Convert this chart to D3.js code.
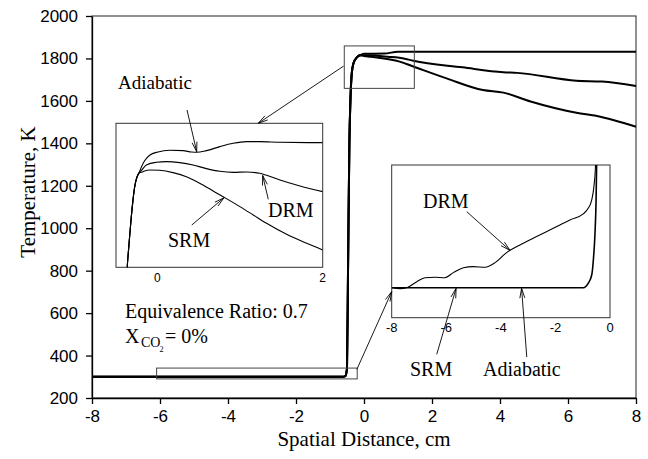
<!DOCTYPE html>
<html>
<head>
<meta charset="utf-8">
<script src="https://cdn.jsdelivr.net/npm/d3@7"></script>
<style>
body { margin: 0; background: #fff; }
svg { display: block; }
.serif { font-family: "Liberation Serif", "Times New Roman", serif; }
.sans { font-family: "Liberation Sans", Arial, sans-serif; }
</style>
</head>
<body>
<svg id="chart" width="648" height="459"></svg>
<script>
// ---- data: [distance cm, temperature K] ----
var frontRise = [[-8, 300], [-0.62, 300], [-0.55, 303], [-0.5, 340], [-0.47, 800], [-0.43, 1400],
    [-0.40, 1600], [-0.36, 1730], [-0.31, 1777], [-0.21, 1805], [-0.12, 1815]];
var adiabaticTail = [[0, 1822], [0.6, 1823], [1.0, 1832], [1.5, 1832], [8, 1832]];
var drmTail = [[0, 1815], [0.7, 1808], [1.2, 1799], [1.45, 1789], [2.9, 1758], [4.1, 1735],
    [4.5, 1732], [6.25, 1695], [7.0, 1691], [8, 1670]];
var srmTail = [[0, 1812], [0.2, 1808], [1.05, 1785], [1.45, 1762], [2.43, 1706], [3.5, 1651],
    [4.1, 1639], [4.9, 1597], [6.25, 1544], [6.85, 1529], [8, 1478]];

// upper inset (flame zone close-up)
var peakRise = [[-0.376, 1619], [-0.364, 1660], [-0.352, 1679], [-0.335, 1703], [-0.315, 1730],
    [-0.295, 1753], [-0.275, 1771], [-0.255, 1782], [-0.222, 1791]];
var adiabaticPeak = [[-0.194, 1799], [-0.154, 1808], [-0.093, 1815.6], [0.008, 1820.2], [0.149, 1822.5],
    [0.311, 1822], [0.412, 1820.2], [0.473, 1819.7], [0.594, 1822], [0.756, 1827.6], [0.917, 1832.2],
    [1.079, 1834.5], [1.24, 1834.5], [1.483, 1833.6], [2.0, 1833.1]];
var drmPeak = [[-0.194, 1794.3], [-0.133, 1802.1], [-0.012, 1805.8], [0.109, 1806.8], [0.271, 1805.4],
    [0.432, 1802.1], [0.594, 1797], [0.756, 1793.3], [0.917, 1791.9], [1.079, 1792.4], [1.24, 1790.6],
    [1.321, 1787.8], [1.483, 1781.3], [1.725, 1773], [2.0, 1765.1]];
var srmPeak = [[-0.194, 1791.9], [-0.154, 1793.8], [-0.093, 1795.2], [0.028, 1794.7], [0.19, 1791.5],
    [0.352, 1785.9], [0.513, 1776.7], [0.675, 1766], [0.836, 1755.4], [0.998, 1744.3], [1.16, 1732.7],
    [1.321, 1721.1], [1.564, 1705.8], [1.806, 1693.3], [2.0, 1684.1]];

// lower inset (preheat zone close-up)
var srmAdiabaticPre = [[-8, 300], [-0.98, 300], [-0.8, 300.33], [-0.67, 300.95], [-0.61, 302.08],
    [-0.55, 304.08], [-0.51, 306.58], [-0.49, 309.2], [-0.48, 310]];
var drmPre = [[-8, 300], [-7.69, 299.93], [-7.45, 300], [-7.08, 300.45], [-6.78, 300.75], [-6.41, 300.78],
    [-6.05, 300.75], [-5.74, 301.13], [-5.37, 301.5], [-5.01, 301.58], [-4.58, 301.53], [-4.21, 301.88],
    [-3.79, 302.63], [-3.3, 303.2], [-2.69, 303.83], [-2.08, 304.45], [-1.47, 305.08], [-0.98, 305.53],
    [-0.8, 305.95], [-0.67, 306.58], [-0.59, 307.58], [-0.53, 309.2], [-0.52, 310]];

var xTicks = [-8, -6, -4, -2, 0, 2, 4, 6, 8];
var yTicks = [200, 400, 600, 800, 1000, 1200, 1400, 1600, 1800, 2000];
var upperTicks = [0, 2];
var lowerTicks = [-8, -6, -4, -2, 0];
// zoom windows marked on the main plot [x0, x1, T0, T1]
var upperWindow = [-0.58, 1.48, 1659, 1859];
var lowerWindow = [-6.1, -0.2, 290, 341];

var svg = d3.select('#chart');
svg.append('rect').attr('width', 648).attr('height', 459).attr('fill', '#fff');

var x = d3.scaleLinear().domain([-8, 8]).range([92, 636]);
var y = d3.scaleLinear().domain([200, 2000]).range([398, 16]);

var line = function(xs, ys) {
    return d3.line().x(function(d) { return xs(d[0]); }).y(function(d) { return ys(d[1]); })
        .curve(d3.curveMonotoneX);
};

function arrow(g, x1, y1, x2, y2) {
    var a = Math.atan2(y2 - y1, x2 - x1), len = 10, s = 0.25;
    g.append('line').attr('x1', x1).attr('y1', y1).attr('x2', x2).attr('y2', y2)
        .attr('stroke', '#000').attr('stroke-width', 0.9);
    g.append('path')
        .attr('d', 'M' + (x2 - len * Math.cos(a - s)) + ',' + (y2 - len * Math.sin(a - s)) +
            'L' + x2 + ',' + y2 +
            'L' + (x2 - len * Math.cos(a + s)) + ',' + (y2 - len * Math.sin(a + s)))
        .attr('fill', 'none').attr('stroke', '#000').attr('stroke-width', 0.9);
}

// frame
svg.append('rect').attr('x', x(-8)).attr('y', y(2000)).attr('width', x(8) - x(-8)).attr('height', y(200) - y(2000))
    .attr('fill', 'none').attr('stroke', '#222').attr('stroke-width', 1);

// axes
var gy = svg.append('g').attr('transform', 'translate(' + x(-8) + ',0)')
    .call(d3.axisLeft(y).tickValues(yTicks).tickSize(6).tickSizeOuter(0).tickPadding(8).tickFormat(String));
var gx = svg.append('g').attr('transform', 'translate(0,' + y(200) + ')')
    .call(d3.axisBottom(x).tickValues(xTicks).tickSize(6).tickSizeOuter(0).tickPadding(6).tickFormat(String));
[gx, gy].forEach(function(g) {
    g.selectAll('path,line').attr('stroke', '#000').attr('stroke-width', 1.3);
    g.selectAll('text').attr('class', 'sans').attr('font-size', 17).attr('fill', '#000');
});

// main curves
var mainLine = line(x, y);
[adiabaticTail, drmTail, srmTail].forEach(function(tail) {
    svg.append('path').datum(frontRise.concat(tail)).attr('d', mainLine)
        .attr('fill', 'none').attr('stroke', '#000').attr('stroke-width', 2);
});

// zoom windows
[upperWindow, lowerWindow].forEach(function(w) {
    svg.append('rect').attr('x', x(w[0])).attr('y', y(w[3]))
        .attr('width', x(w[1]) - x(w[0])).attr('height', y(w[2]) - y(w[3]))
        .attr('fill', 'none').attr('stroke', '#444').attr('stroke-width', 1);
});

// axis titles
svg.append('text').attr('class', 'serif').attr('font-size', 21)
    .attr('transform', 'translate(35,192) rotate(-90)').attr('text-anchor', 'middle').text('Temperature, K');
svg.append('text').attr('class', 'serif').attr('font-size', 21)
    .attr('x', 364).attr('y', 446).attr('text-anchor', 'middle').text('Spatial Distance, cm');

// ---- upper inset ----
var ux = d3.scaleLinear().domain([-0.5, 2]).range([116, 322.7]);
var uy = d3.scaleLinear().domain([1660, 1860]).range([267.3, 123.3]);
svg.append('clipPath').attr('id', 'clipU').append('rect')
    .attr('x', ux(-0.5)).attr('y', uy(1860)).attr('width', ux(2) - ux(-0.5)).attr('height', uy(1660) - uy(1860));
var gu = svg.append('g');
gu.append('rect').attr('x', ux(-0.5)).attr('y', uy(1860)).attr('width', ux(2) - ux(-0.5)).attr('height', uy(1660) - uy(1860))
    .attr('fill', '#fff').attr('stroke', '#333').attr('stroke-width', 1);
var gc = gu.append('g').attr('clip-path', 'url(#clipU)');
var uLine = line(ux, uy);
[adiabaticPeak, drmPeak, srmPeak].forEach(function(s) {
    gc.append('path').datum(peakRise.concat(s)).attr('d', uLine)
        .attr('fill', 'none').attr('stroke', '#000').attr('stroke-width', 1.1);
});
gu.selectAll('.utick').data(upperTicks).enter().append('text')
    .attr('class', 'sans').attr('font-size', 12).attr('text-anchor', 'middle')
    .attr('x', function(d) { return ux(d); }).attr('y', 282).text(String);

// ---- lower inset ----
var lx = d3.scaleLinear().domain([-8, 0]).range([391.7, 610]);
var ly = d3.scaleLinear().domain([297.75, 309.2]).range([317.7, 165]);
svg.append('clipPath').attr('id', 'clipL').append('rect')
    .attr('x', lx(-8)).attr('y', ly(309.2)).attr('width', lx(0) - lx(-8)).attr('height', ly(297.75) - ly(309.2));
var gl = svg.append('g');
gl.append('rect').attr('x', lx(-8)).attr('y', ly(309.2)).attr('width', lx(0) - lx(-8)).attr('height', ly(297.75) - ly(309.2))
    .attr('fill', '#fff').attr('stroke', '#333').attr('stroke-width', 1);
var glc = gl.append('g').attr('clip-path', 'url(#clipL)');
var lLine = line(lx, ly);
glc.append('path').datum(drmPre).attr('d', lLine).attr('fill', 'none').attr('stroke', '#000').attr('stroke-width', 1.1);
glc.append('path').datum(srmAdiabaticPre).attr('d', lLine).attr('fill', 'none').attr('stroke', '#000').attr('stroke-width', 1.6);
gl.selectAll('.ltick').data(lowerTicks).enter().append('text')
    .attr('class', 'sans').attr('font-size', 13).attr('text-anchor', 'middle')
    .attr('x', function(d) { return lx(d); }).attr('y', 332).text(String);

// ---- annotations ----
var ga = svg.append('g');
arrow(ga, x(-0.6), y(1764), ux(1.22), uy(1860));
arrow(ga, x(-0.21), y(335), lx(-8), ly(299.7));
arrow(ga, ux(0.359), uy(1878.5), ux(0.476), uy(1820.6));
arrow(ga, ux(1.342), uy(1754.4), ux(1.274), uy(1787.5));
arrow(ga, ux(0.416), uy(1718.7), ux(0.805), uy(1756.5));
arrow(ga, lx(-5.25), ly(305.7), lx(-3.665), ly(302.8));
arrow(ga, lx(-6.35), ly(295.0), lx(-5.64), ly(299.95));
arrow(ga, lx(-3.05), ly(294.8), lx(-3.24), ly(299.95));

function label(t, px, py, size) {
    return ga.append('text').attr('class', 'serif').attr('font-size', size).attr('x', px).attr('y', py).text(t);
}
label('Adiabatic', 118, 89, 19);
label('DRM', 268, 217, 20);
label('SRM', 168, 247, 20);
label('DRM', 423, 208, 20);
label('SRM', 410, 376, 20);
label('Adiabatic', 483, 376, 20);
label('Equivalence Ratio: 0.7', 125, 318, 20);
label('X', 125, 342.5, 20);
label('CO', 141, 347, 14);
label('2', 159.5, 351.5, 8);
label('= 0%', 165, 342.5, 20);
</script>
</body>
</html>
